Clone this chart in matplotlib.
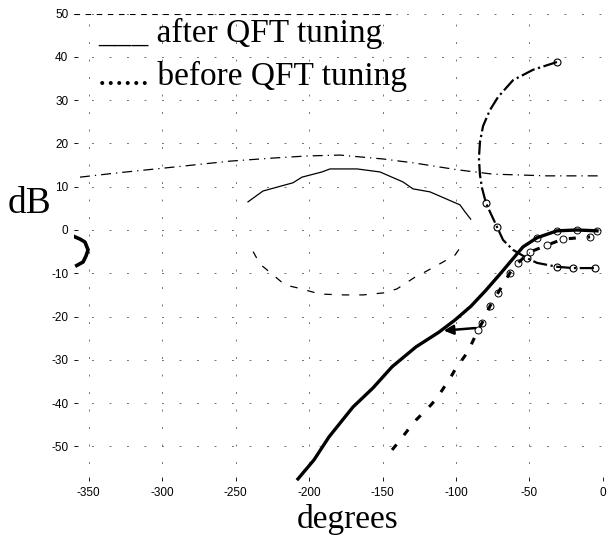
import matplotlib.pyplot as plt

plt.rcParams['axes.unicode_minus'] = False

# Data (phase in degrees, gain in dB)

# open loop after QFT tuning
after_ph = [-207.5, -196.6, -186.4, -170.1, -156.5, -143.5, -127.2, -111.6, -100.7, -89.8,
            -79.6, -70.1, -61.9, -54.4, -44.9, -31.3, -17.7, -4.1]
after_db = [-57.5, -53.1, -47.8, -40.9, -36.5, -31.6, -27.0, -23.6, -20.8, -17.6,
            -13.9, -10.2, -6.9, -3.9, -1.8, -0.2, 0.0, -0.2]

# low frequency wrap of the tuned loop near -360
wrap_ph = [-359.2, -355.8, -352.4, -350.3, -351.7, -353.7, -358.0]
wrap_db = [-1.6, -2.1, -2.8, -4.6, -6.0, -7.4, -8.2]

# open loop before QFT tuning
before_ph = [-143.5, -140.8, -132.7, -127.2, -117.0, -112.9, -103.4, -100.7, -92.5, -89.8,
             -85.0, -82.3, -76.9, -71.4, -63.3, -57.8, -49.7, -38.1, -27.2, -8.8]
before_db = [-50.8, -49.7, -46.2, -43.9, -40.4, -38.8, -33.9, -32.3, -28.4, -26.6,
             -23.1, -21.5, -17.6, -14.5, -9.9, -7.6, -5.1, -3.5, -2.1, -1.6]

# curve with circle markers (upper right)
loop_ph = [-31.3, -47.6, -61.2, -71.4, -76.9, -81.6, -83.7, -84.4, -83.7, -82.3,
           -79.6, -76.9, -72.1, -68.0, -61.2, -51.7, -44.9, -31.3, -20.4, -5.4]
loop_db = [38.8, 37.0, 34.6, 30.7, 27.7, 24.0, 20.3, 16.6, 12.7, 9.7,
           6.2, 4.2, 0.7, -2.3, -4.6, -6.5, -7.6, -8.5, -8.8, -8.8]

# stability bound (closed contour around -180)
bnd_up_ph = [-241.5, -231.3, -210.9, -204.8, -191.2, -185.7, -167.3, -151.7, -136.1, -129.3,
             -117.7, -97.3, -93.9, -90.0]
bnd_up_db = [6.5, 9.0, 10.9, 12.2, 13.4, 14.1, 14.1, 13.4, 11.1, 9.5, 8.8, 5.8, 4.2, 2.5]
bnd_lo_ph = [-98.0, -100.7, -108.8, -121.1, -127.9, -140.1, -148.3, -163.3, -176.9, -192.5,
             -207.5, -216.3, -228.6, -233.3, -238.0]
bnd_lo_db = [-4.5, -5.8, -7.4, -9.7, -10.9, -13.6, -14.5, -15.0, -15.0, -14.8,
             -13.4, -12.7, -9.2, -7.9, -5.0]

# performance bound (open curve)
perf_ph = [-355.8, -330.0, -290.0, -253.7, -225.0, -201.0, -179.0, -149.7, -129.0, -99.0,
           -75.0, -38.0, -2.0]
perf_db = [12.2, 13.2, 14.6, 15.9, 16.6, 17.1, 17.3, 16.4, 15.5, 13.9, 12.9, 12.5, 12.5]

# shift of one frequency point by the tuning
arrow_from = (-85.0, -22.6)
arrow_to = (-110.2, -23.3)

xticks = [-350, -300, -250, -200, -150, -100, -50, 0]
yticks = [-50, -40, -30, -20, -10, 0, 10, 20, 30, 40, 50]

fig = plt.figure(figsize=(6.11, 5.38), dpi=100)
ax = fig.add_axes([0.1208, 0.1058, 0.8661, 0.8691])

ax.plot(perf_ph, perf_db, color='black', lw=0.9, linestyle=(0, (8, 4, 1, 4)))
ax.plot(bnd_up_ph, bnd_up_db, color='black', lw=0.9)
ax.plot(bnd_lo_ph, bnd_lo_db, color='black', lw=0.9, linestyle=(0, (6, 8)))

ax.plot(loop_ph, loop_db, color='black', lw=1.6, linestyle='-.',
        marker='o', markersize=5, markerfacecolor='none', markeredgewidth=0.8,
        markevery=[0, 10, 12, 15, 17, 18, 19])

ax.plot(before_ph, before_db, color='black', lw=2.2, linestyle=(0, (2.3, 3.9)))
ax.plot(before_ph[10:], before_db[10:], color='black', lw=0, marker='o', markersize=5,
        markerfacecolor='none', markeredgewidth=0.7)

ax.plot(after_ph, after_db, color='black', lw=2.4)
ax.plot(after_ph[-4:], after_db[-4:], color='black', lw=0, marker='o', markersize=5,
        markerfacecolor='none', markeredgewidth=0.7)
ax.plot(wrap_ph, wrap_db, color='black', lw=2.6)

ax.annotate('', xy=arrow_to, xytext=arrow_from,
            arrowprops=dict(arrowstyle='-|>', color='black', lw=1.8, mutation_scale=14))

# dashed top border line
ax.plot([-360, -140], [49.8, 49.8], color='black', lw=0.8, linestyle=(0, (5, 5)))

ax.set_xlim(-360, 0)
ax.set_ylim(-58, 50)
ax.set_xticks(xticks)
ax.set_yticks(yticks)
ax.tick_params(labelsize=8.5, length=3, width=0.6, direction='in', pad=4)
for lab in ax.get_xticklabels() + ax.get_yticklabels():
    lab.set_family('Liberation Sans')
for s in ax.spines.values():
    s.set_visible(False)
ax.grid(True, color='0.45', lw=0.7, linestyle=(0, (2, 16)))

# axis labels and legend as text
fig.text(8 / 611, 0.604, 'dB', family='Liberation Serif', fontsize=27, va='baseline', ha='left')
fig.text(348 / 611, 0.0186, 'degrees', family='Liberation Serif', fontsize=24, va='baseline', ha='center')
fig.text(98 / 611, 0.922, '___ after QFT tuning', family='Liberation Serif', fontsize=24, va='baseline')
fig.text(98 / 611, 0.842, '...... before QFT tuning', family='Liberation Serif', fontsize=24, va='baseline')

plt.savefig('out.png', dpi=100)
